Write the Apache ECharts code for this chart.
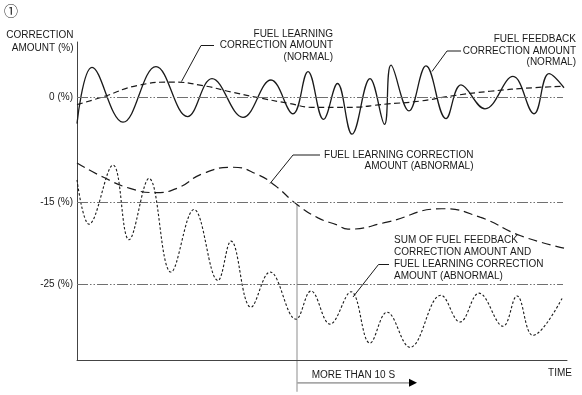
<!DOCTYPE html>
<html><head><meta charset="utf-8">
<script src="https://cdn.jsdelivr.net/npm/echarts@6/dist/echarts.min.js"></script>
<style>html,body{margin:0;padding:0;background:#fff}#c{width:582px;height:395px}</style>
</head><body><div id="c"></div>
<script>
// Time in arbitrary units, correction amount in schematic %
const feedbackNormalTime  = [0, 1.5, 4.6, 7.9, 11.05, 13.5, 16.6, 19.4, 21.6, 23.1, 24.65, 26.05, 27.5, 29.3, 30.75, 31.4, 33.2, 34.9, 36.9, 38.4, 40.8, 43.6, 45.7, 47.2, 48.7];
const feedbackNormalValue = [-3.8, 4.2, -3.6, 4.3, -2.8, 2.6, -2.9, 2.4, -2.4, 3.6, -3.2, 1.9, -5.3, 2.6, -3.9, 4.5, -2.0, 4.4, -3.1, 1.7, -1.7, 2.9, -2.4, 3.3, 1.3];

const learningNormalTime  = [0, 2.6, 6.0, 9.6, 12.6, 15.4, 18.1, 21.1, 23.8, 26.8, 31.1, 34.3, 37.3, 41.3, 45.6, 48.7];
const learningNormalValue = [-1.1, 0, 1.6, 2.1, 1.6, 0.7, -0.1, -0.9, -1.5, -1.5, -1.0, -0.6, 0.1, 0.8, 1.3, 1.5];

const learningAbnormalTime  = [0, 2.6, 5.3, 7.8, 10.0, 12.6, 15.6, 18.0, 19.8, 22.0, 24.1, 26.0, 27.1, 31.0, 36.5, 40.3, 44.3, 48.7];
const learningAbnormalValue = [-9.4, -11.4, -13.0, -13.6, -13.0, -10.9, -10.0, -11.0, -12.6, -15.3, -17.2, -18.2, -18.8, -17.8, -15.9, -17.1, -19.7, -21.5];

const sumAbnormalTime  = [0, 1.2, 3.6, 5.2, 7.2, 9.4, 11.7, 14.1, 15.4, 17.4, 19.3, 21.9, 23.4, 25.3, 27.4, 29.3, 31.0, 33.3, 36.4, 38.3, 40.2, 42.6, 44.0, 45.6, 48.6];
const sumAbnormalValue = [-11.8, -18.1, -9.7, -20.3, -11.6, -24.9, -16.0, -26.1, -20.5, -29.9, -24.9, -31.6, -27.6, -32.3, -27.7, -35.0, -30.6, -35.6, -28.2, -32.0, -27.9, -32.6, -28.3, -33.9, -28.4];

const refLevels = [0, -15, -26.7];
const refLabels = ['0 (%)', '-15 (%)', '-25 (%)'];
const refLineEnd = 48.6;

const markTime = 22;        // start of "more than 10 s" span
const markTop = -15.3;
const arrowEndTime = 34;

const FONT = '"Liberation Sans", Arial, sans-serif';
const INK = '#1a1a1a';

function pairs(t, v) { return t.map((x, i) => [x, v[i]]); }

const chart = echarts.init(document.getElementById('c'), null, {renderer: 'canvas'});

function lineSeries(name, t, v, type, width, smooth) {
  return {
    name, type: 'line', data: pairs(t, v), showSymbol: false, symbol: 'none',
    smooth: smooth, silent: true, animation: false, clip: false,
    lineStyle: {color: INK, width: width, type: type}
  };
}

const series = [
  lineSeries('Fuel feedback correction amount (normal)', feedbackNormalTime, feedbackNormalValue, 'solid', 1.3, 0.4),
  lineSeries('Fuel learning correction amount (normal)', learningNormalTime, learningNormalValue, [6, 3.5], 1.2, 0.5),
  lineSeries('Fuel learning correction amount (abnormal)', learningAbnormalTime, learningAbnormalValue, [9, 5], 1.2, 0.5),
  lineSeries('Sum (abnormal)', sumAbnormalTime, sumAbnormalValue, [2.5, 2], 1.1, 0.4)
];
series.push({
  type: 'line', data: [], silent: true, animation: false,
  markLine: {
    silent: true, symbol: ['none', 'none'], animation: false,
    label: {show: false},
    lineStyle: {color: '#707070', width: 1, type: [11, 2, 1.5, 2, 1.5, 2]},
    data: refLevels.map(v => [{coord: [0, v]}, {coord: [refLineEnd, v]}])
  }
});

chart.setOption({
  animation: false,
  grid: {left: 77, right: 15, top: 42, bottom: 35},
  xAxis: {
    type: 'value', min: 0, max: 49,
    axisLine: {show: true, onZero: false, lineStyle: {color: '#444', width: 1}},
    axisTick: {show: false}, axisLabel: {show: false}, splitLine: {show: false}
  },
  yAxis: {
    type: 'value', min: -37.4, max: 7.8,
    axisLine: {show: true, lineStyle: {color: '#444', width: 1}},
    axisTick: {show: false}, splitLine: {show: false},
    axisLabel: {
      show: true, customValues: refLevels, margin: 4,
      color: INK, fontSize: 10, fontFamily: FONT,
      formatter: (val) => {
        let best = 0;
        refLevels.forEach((r, i) => { if (Math.abs(r - val) < Math.abs(refLevels[best] - val)) best = i; });
        return refLabels[best];
      }
    }
  },
  series
});

const P = (t, v) => chart.convertToPixel({gridIndex: 0}, [t, v]);
const txt = (x, y, text, align, lh) => ({
  type: 'text', x, y, silent: true,
  style: {text, fill: INK, fontSize: 10, fontFamily: FONT, align: align, verticalAlign: 'top', lineHeight: lh || 12}
});
const leader = (pts) => ({type: 'polyline', silent: true, shape: {points: pts}, style: {stroke: INK, lineWidth: 1, fill: null}});

const vTop = P(markTime, markTop);
const vBot = P(markTime, -41.9);
const aStart = P(markTime, -40.65);
const aEnd = P(arrowEndTime, -40.65);

chart.setOption({
  graphic: [
    {type: 'text', x: 11, y: 11, silent: true,
     style: {text: '①', fill: INK, fontSize: 14, fontFamily: '"Noto Sans CJK JP", "DejaVu Sans", sans-serif', align: 'center', verticalAlign: 'middle'}},
    txt(73.5, 28.5, 'CORRECTION\nAMOUNT (%)', 'right', 13),
    txt(333, 28, 'FUEL LEARNING\nCORRECTION AMOUNT\n(NORMAL)', 'right', 11.7),
    leader([[181.5, 81.5], [201, 45.5], [214, 45.5]]),
    txt(576, 33.5, 'FUEL FEEDBACK\nCORRECTION AMOUNT\n(NORMAL)', 'right', 11.5),
    leader([[432, 71.5], [447, 51], [461, 51]]),
    txt(473.5, 149.2, 'FUEL LEARNING CORRECTION\nAMOUNT (ABNORMAL)', 'right', 11.5),
    leader([[270, 183.5], [293, 155], [320, 155]]),
    txt(394, 234.7, 'SUM OF FUEL FEEDBACK\nCORRECTION AMOUNT AND\nFUEL LEARNING CORRECTION\nAMOUNT (ABNORMAL)', 'left', 12),
    leader([[353, 297], [378.5, 264.5], [389, 264.5]]),
    {type: 'line', silent: true, z: -1, shape: {x1: vTop[0], y1: vTop[1], x2: vBot[0], y2: vBot[1]},
     style: {stroke: '#b8b8b8', lineWidth: 1.6}},
    {type: 'line', silent: true, shape: {x1: aStart[0], y1: aStart[1], x2: aEnd[0] - 6, y2: aEnd[1]},
     style: {stroke: '#a8a8a8', lineWidth: 1.6}},
    {type: 'polygon', silent: true, shape: {points: [[aEnd[0], aEnd[1]], [aEnd[0] - 8, aEnd[1] - 4], [aEnd[0] - 8, aEnd[1] + 4]]},
     style: {fill: '#000'}},
    txt(311.7, 369, 'MORE THAN 10 S', 'left'),
    txt(572, 367.5, 'TIME', 'right')
  ]
});
</script>
</body></html>
